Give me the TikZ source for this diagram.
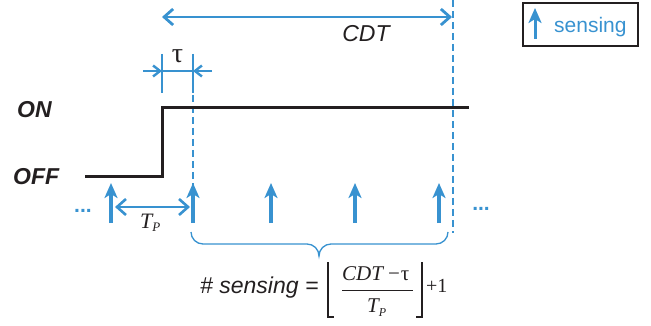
\documentclass[tikz,border=0pt]{standalone}
\usepackage{fontspec}
\setmainfont{Liberation Serif}
\setsansfont{Liberation Sans}
\usetikzlibrary{arrows.meta}
\definecolor{sblue}{RGB}{56,146,208}
\definecolor{ink}{RGB}{35,31,32}
\newcommand{\fsz}[1]{\fontsize{#1}{#1}\selectfont}
\tikzset{
  sense/.style={sblue, line width=3.2pt, -{Stealth[length=15pt,width=13pt,inset=4pt]}},
  dimarrow/.style={sblue, line width=2.8pt, {Straight Barb[length=9pt,width=16pt]}-{Straight Barb[length=9pt,width=16pt]}},
  tauarrow/.style={sblue, line width=2.4pt, -{Straight Barb[length=7pt,width=11pt]}},
  thinblue/.style={sblue, line width=1.3pt},
  dashline/.style={sblue, line width=2.6pt, dash pattern=on 7pt off 4pt},
  signal/.style={ink, line width=3pt, line join=miter},
  lbl/.style={inner sep=0pt, text=ink},
  statelbl/.style={lbl, font=\sffamily\bfseries\itshape\fsz{23}, anchor=base west},
  dots/.style={inner sep=0pt, text=sblue, font=\sffamily\bfseries\fsz{21}, anchor=base},
  serif/.style={inner sep=0pt, text=ink, anchor=base west},
  bracestyle/.style={sblue, line width=1.3pt},
  floorline/.style={ink, line width=1.1pt},
}
\begin{document}
\begin{tikzpicture}[x=1pt,y=-1pt]
\useasboundingbox (0,0) rectangle (651,326);

% key coordinates
\coordinate (cdtL) at (162,17);
\coordinate (cdtR) at (452,17);
\coordinate (vTop) at (453,0);
\coordinate (vBot) at (453,233);
\coordinate (offStart) at (85,177);
\coordinate (stepLow) at (162,177);
\coordinate (stepHigh) at (162,108);
\coordinate (onEnd) at (469,108);

% CDT
\draw[dimarrow] (cdtL) -- (cdtR);
\node[lbl, font=\sffamily\itshape\fsz{23}, anchor=base] (cdt) at (366,42) {CDT};
\draw[dashline] (vTop) -- (vBot);

% tau dimension
\coordinate (t1a) at (162,54); \coordinate (t1b) at (162,93);
\coordinate (t2a) at (193,54); \coordinate (t2b) at (193,93);
\coordinate (t1m) at (162,71); \coordinate (t2m) at (193,71);
\coordinate (t1o) at (143,71); \coordinate (t2o) at (212,71);
\draw[thinblue] (t1a) -- (t1b);
\draw[thinblue] (t2a) -- (t2b);
\draw[thinblue] (t1m) -- (t2m);
\draw[tauarrow] (t1o) -- (t1m);
\draw[tauarrow] (t2o) -- (t2m);
\node[serif, anchor=base, font=\fsz{28}] (tau) at (177.5,63) {τ};
\coordinate (dA) at (193,95);
\coordinate (dB) at (193,186);
\draw[dashline] (dA) -- (dB);

% signal
\draw[signal] (offStart) -- (stepLow) -- (stepHigh) -- (onEnd);
\node[statelbl] (on) at (17,118) {ON};
\node[statelbl] (off) at (13,185) {OFF};

% sensing arrows
\foreach \i/\x in {1/111,2/193,3/271,4/355,5/439}{
  \coordinate (sb\i) at (\x,223);
  \coordinate (st\i) at (\x,183);
  \draw[sense] (sb\i) -- (st\i);
}
\node[dots] (dl) at (83,212) {...};
\node[dots] (dr) at (481,211) {...};

% Tp
\coordinate (tpL) at (115,207);
\coordinate (tpR) at (190,207);
\draw[dimarrow, line width=2.6pt] (tpL) -- (tpR);
\node[serif] (tp) at (140,228) {{\fsz{22}\itshape T}\raisebox{-4pt}{\fsz{13}\itshape P}};

% brace
\coordinate (bl) at (191,232);
\coordinate (br) at (448,232);
\coordinate (btip) at (319,256);
\draw[bracestyle] (bl) to[out=-90,in=180] (203,244) -- (307,244) to[out=0,in=90] (btip)
  to[out=90,in=180] (331,244) -- (436,244) to[out=0,in=-90] (br);

% formula
\node[lbl, font=\sffamily\itshape\fsz{23}, anchor=base west] (fl) at (200,293) {\# sensing =};
\node[serif, font=\fsz{21}] (num) at (342,280) {{\itshape CDT}\kern5pt−\kern1pt τ};
\node[serif, font=\fsz{21}] (den) at (367,312) {{\itshape T}\raisebox{-4pt}{\fsz{12}\itshape P}};
\coordinate (barL) at (342,290); \coordinate (barR) at (413,290);
\draw[ink, line width=1pt] (barL) -- (barR);
\coordinate (fl1) at (328,262); \coordinate (fl2) at (328,317); \coordinate (fl3) at (334,317);
\coordinate (fr1) at (422,262); \coordinate (fr2) at (422,317); \coordinate (fr3) at (416,317);
\draw[floorline] (fl1) -- (fl2) -- (fl3);
\draw[floorline] (fr1) -- (fr2) -- (fr3);
\node[serif, font=\fsz{20}] (plus) at (426,292) {+1};

% legend
\node[draw=ink, line width=1.5pt, minimum width=115pt, minimum height=43pt, inner sep=0pt] (legend) at (580.5,24.5) {};
\coordinate (lgb) at (535,39);
\coordinate (lgt) at (535,8);
\draw[sense, line width=3pt] (lgb) -- (lgt);
\node[inner sep=0pt, text=sblue, font=\sffamily\fsz{21}, anchor=base west] (lgtxt) at (554,33) {sensing};
\end{tikzpicture}
\end{document}
